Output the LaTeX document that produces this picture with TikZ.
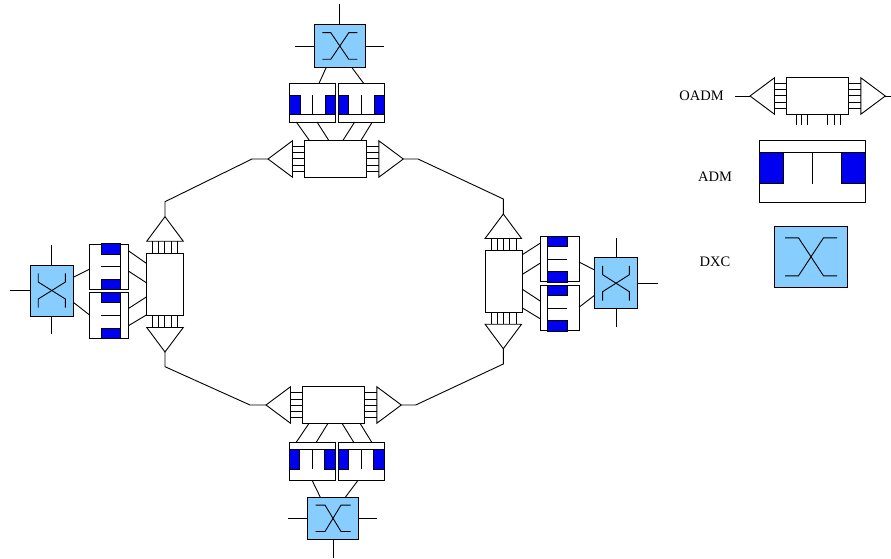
\documentclass[tikz,border=0pt]{standalone}
\usepackage{fontspec}
\setmainfont{Liberation Serif}
\usepackage{xcolor}
\usetikzlibrary{shapes.geometric}
\definecolor{dxcblue}{HTML}{87CEFF}
\definecolor{admblue}{HTML}{0000F0}
\tikzset{
    box/.style = {rectangle, draw=black, fill=white, inner sep=0pt, outer sep=0pt},
    oadmh/.style = {box, minimum width=62pt, minimum height=37pt},
    oadmv/.style = {box, minimum width=37pt, minimum height=62pt},
    admh/.style = {box, minimum width=46pt, minimum height=38.6pt},
    admv/.style = {box, minimum width=39pt, minimum height=45.4pt},
    dxch/.style = {box, fill=dxcblue, minimum width=51pt, minimum height=42.6pt},
    dxcv/.style = {box, fill=dxcblue, minimum width=43pt, minimum height=51pt},
    tri/.style = {isosceles triangle, isosceles triangle stretches, draw=black, fill=white, inner sep=0pt, outer sep=0pt, anchor=apex, minimum width=36.5pt, minimum height=24.5pt},
    lbl/.style = {font=\fontsize{14.5}{16}\selectfont, inner sep=0pt},
    pics/xconn/.style n args = {3}{code={
        \draw (-#1,-#3) -- (-#2,-#3) -- (#2,#3) -- (#1,#3);
        \draw (-#1,#3) -- (-#2,#3) -- (#2,-#3) -- (#1,-#3);
    }},
    pics/admin/.style = {code={
        \draw[fill=admblue] (-23,-7.7) rectangle (-12.7,11.6);
        \draw[fill=admblue] (12.7,-7.7) rectangle (23,11.6);
        \draw (-23,11.6) -- (23,11.6);
        \draw (0,-7.7) -- (0,11.6);
    }}
}

\begin{document}
\begin{tikzpicture}[x=1pt, y=-1pt, line width=0.9pt]
    \useasboundingbox (0,0) rectangle (891,559);

    % switches
    \node [dxch] (dxcT) at (339.8,46) {};
    \node [dxcv] (dxcL) at (51.8,290.5) {};
    \node [dxcv] (dxcR) at (616,283.2) {};
    \node [dxch] (dxcB) at (333,518.3) {};
    \node [box, fill=dxcblue, minimum width=73.4pt, minimum height=61pt] (dxcK) at (811,256.8) {};
    \pic at (dxcT) {xconn={17.5}{9}{13.3}};
    \pic at (dxcB) {xconn={17.5}{8}{13.2}};
    \pic[rotate=90] at (dxcL) {xconn={17.2}{8.5}{13.6}};
    \pic[rotate=90] at (dxcR) {xconn={17.3}{8.5}{13.4}};
    \pic at (dxcK) {xconn={26}{12.5}{19}};

    % add drop muxes
    \node [admh] (admTL) at (312.7,102.7) {};
    \node [admh] (admTR) at (361.3,102.7) {};
    \node [admv] (admLu) at (108.8,266.7) {};
    \node [admv] (admLd) at (108.8,315.5) {};
    \node [admv] (admRu) at (559.5,259.2) {};
    \node [admv] (admRd) at (559.5,308) {};
    \node [admh] (admBL) at (312.2,461.5) {};
    \node [admh] (admBR) at (361,461.5) {};
    \node [box, minimum width=105.6pt, minimum height=62.3pt] (admK) at (812.5,171.2) {};
    \foreach \n in {admTL,admTR} \pic at (\n) {admin};
    \foreach \n in {admBL,admBR} \pic[rotate=180] at (\n) {admin};
    \foreach \n in {admLu,admLd} \pic[rotate=90] at (\n) {admin};
    \foreach \n in {admRu,admRd} \pic[rotate=-90] at (\n) {admin};
    \pic[rotate=180, xscale=2.296, yscale=1.614] at (admK) {admin};

    % add drop boxes
    \node [oadmh] (oadmT) at (335.3,158.8) {};
    \node [oadmv] (oadmL) at (164.8,284.3) {};
    \node [oadmv] (oadmR) at (503.6,281.5) {};
    \node [oadmh] (oadmB) at (333.7,405.3) {};
    \node [oadmh] (oadmK) at (817.7,95.7) {};

    % couplers
    \node [tri, shape border rotate=180] (triTl) at (268,159) {};
    \node [tri, shape border rotate=0] (triTr) at (403.3,159) {};
    \node [tri, shape border rotate=90] (triLu) at (165,216.7) {};
    \node [tri, shape border rotate=270] (triLd) at (165,352) {};
    \node [tri, shape border rotate=90] (triRu) at (503.3,214) {};
    \node [tri, shape border rotate=270] (triRd) at (503.3,348.7) {};
    \node [tri, shape border rotate=180] (triBl) at (266,405) {};
    \node [tri, shape border rotate=0] (triBr) at (401.3,405) {};
    \node [tri, shape border rotate=180] (triKl) at (750,96) {};
    \node [tri, shape border rotate=0] (triKr) at (885.3,96) {};

    \foreach \b/\l/\r in {oadmT/triTl/triTr, oadmB/triBl/triBr, oadmK/triKl/triKr}
        \foreach \o in {-12.6,-6.3,0,6.3,12.6} {
            \draw ([yshift=\o pt]\b.west) -- ([yshift=\o pt]\b.west -| \l.lower side);
            \draw ([yshift=\o pt]\b.east) -- ([yshift=\o pt]\b.east -| \r.lower side);
        }
    \foreach \b/\u/\d in {oadmL/triLu/triLd, oadmR/triRu/triRd}
        \foreach \o in {-12.6,-6.3,0,6.3,12.6} {
            \draw ([xshift=\o pt]\b.north) -- ([xshift=\o pt]\b.north |- \u.lower side);
            \draw ([xshift=\o pt]\b.south) -- ([xshift=\o pt]\b.south |- \d.lower side);
        }

    % ring
    \coordinate (ringA) at (252,159);
    \coordinate (ringB) at (165,201.7);
    \coordinate (ringC) at (418,159);
    \coordinate (ringD) at (503.3,199);
    \coordinate (ringE) at (165,366.7);
    \coordinate (ringF) at (250,405);
    \coordinate (ringG) at (415.7,405);
    \coordinate (ringH) at (503.3,364);
    \coordinate (stubKl) at (735,96);
    \coordinate (stubKr) at (891,96);
    \draw (triTl.apex) -- (ringA) -- (ringB) -- (triLu.apex);
    \draw (triTr.apex) -- (ringC) -- (ringD) -- (triRu.apex);
    \draw (triLd.apex) -- (ringE) -- (ringF) -- (triBl.apex);
    \draw (triBr.apex) -- (ringG) -- (ringH) -- (triRd.apex);
    \draw (triKl.apex) -- (stubKl);
    \draw (triKr.apex) -- (stubKr);

    % client stubs
    \foreach \n/\d/\x/\y in {dxcT/a/339.8/4, dxcT/b/294.5/46, dxcT/c/384/46,
                             dxcL/a/51.8/245, dxcL/b/10/290.5, dxcL/c/51.8/334.3,
                             dxcR/a/616/238.3, dxcR/b/657.7/283.2, dxcR/c/616/327.3,
                             dxcB/a/288/518.3, dxcB/b/377.3/518.3, dxcB/c/333/558} {
        \coordinate (\n\d) at (\x,\y);
        \draw (\n) -- (\n\d);
    }

    % pins of the key box
    \foreach \p in {9.3,15,20.6,41,47.3,53.3}
        \draw ([xshift=\p pt]oadmK.south west) -- ++(0,11);

    % links, horizontal offsets
    \foreach \a/\p/\b/\q in {
        dxcT.south west/12/admTL.north west/29.3,
        dxcT.south west/37.4/admTR.north west/25.4,
        admTL.south west/6.6/oadmT.north west/5,
        admTL.south west/27.3/oadmT.north west/24.4,
        admTR.south west/16.4/oadmT.north west/38.7,
        admTR.south west/34/oadmT.north west/56.7,
        oadmB.south west/6/admBL.north west/7.1,
        oadmB.south west/25/admBL.north west/27.1,
        oadmB.south west/39.6/admBR.north west/15.7,
        oadmB.south west/57.6/admBR.north west/33.7,
        admBL.south west/23.1/dxcB.north west/12.7,
        admBR.south west/19.7/dxcB.north west/38}
        \draw ([xshift=\p pt]\a) -- ([xshift=\q pt]\b);

    % links, vertical offsets
    \foreach \a/\p/\b/\q in {
        dxcL.north east/12.3/admLu.north west/25.3,
        dxcL.north east/37.3/admLd.north west/22,
        admLu.north east/6.7/oadmL.north west/10,
        admLu.north east/27/oadmL.north west/29.4,
        admLd.north east/15.8/oadmL.north west/43.7,
        admLd.north east/33/oadmL.north west/61.7,
        oadmR.north east/4.3/admRu.north west/6.8,
        oadmR.north east/24/admRu.north west/26.8,
        oadmR.north east/38.6/admRd.north west/15.6,
        oadmR.north east/57.3/admRd.north west/33.3,
        admRu.north east/25.5/dxcR.north west/12.3,
        admRd.north east/22/dxcR.north west/37.6}
        \draw ([yshift=-\p pt]\a) -- ([yshift=-\q pt]\b);

    % key
    \node [lbl] (lblOadm) at (701.5,96) {OADM};
    \node [lbl] (lblAdm) at (715,176.5) {ADM};
    \node [lbl] (lblDxc) at (715,261.5) {DXC};
\end{tikzpicture}
\end{document}
